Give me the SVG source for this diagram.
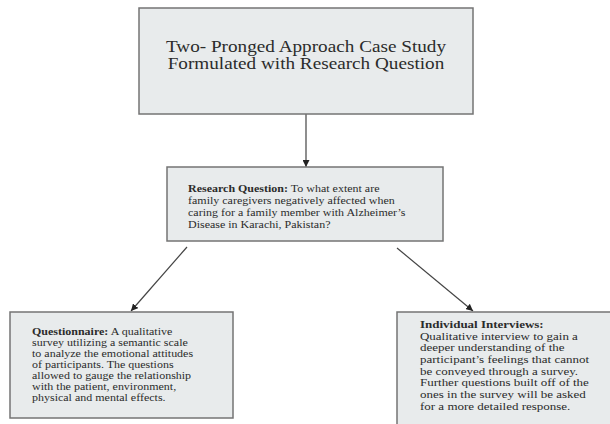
<svg xmlns="http://www.w3.org/2000/svg" width="610" height="424" viewBox="0 0 610 424">
<style>
.box{fill:#e8ebec;stroke:#747474;stroke-width:1.5}
.t{font-family:"Liberation Serif","Times New Roman",serif;fill:#2b2b2b}
.b{font-weight:bold}
.conn{stroke:#444;stroke-width:1.2;fill:none;marker-end:url(#ah)}
</style>
<defs>
<marker id="ah" viewBox="0 0 10 10" refX="10" refY="5" markerWidth="7" markerHeight="7" markerUnits="userSpaceOnUse" orient="auto">
<path d="M0,0 L10,5 L0,10 z" fill="#222"/>
</marker>
</defs>
<rect width="610" height="424" fill="#ffffff"/>
<g id="connectors">
<line class="conn" x1="306" y1="114" x2="306" y2="167"/>
<line class="conn" x1="187" y1="247" x2="131" y2="311"/>
<line class="conn" x1="397" y1="248" x2="473" y2="311"/>
</g>
<g id="node-approach">
<rect class="box" x="139" y="8" width="334" height="106"/>
<g transform="scale(1,0.88)">
<text class="t" font-size="19.2" text-anchor="middle" x="306" y="59.1">Two- Pronged Approach Case Study</text>
<text class="t" font-size="19.2" text-anchor="middle" x="306" y="78.4">Formulated with Research Question</text>
</g>
</g>
<g id="node-research-question">
<rect class="box" x="167" y="167" width="276" height="74"/>
<g transform="scale(1,0.85)" font-size="12">
<text class="t" x="188" y="225.9"><tspan class="b">Research Question:</tspan> To what extent are</text>
<text class="t" x="188" y="240">family caregivers negatively affected when</text>
<text class="t" x="188" y="254.1">caring for a family member with Alzheimer’s</text>
<text class="t" x="188" y="268.2">Disease in Karachi, Pakistan?</text>
</g>
</g>
<g id="node-questionnaire">
<rect class="box" x="10" y="312" width="223" height="106"/>
<g transform="scale(1,0.85)" font-size="12">
<text class="t" x="32" y="394.1"><tspan class="b">Questionnaire:</tspan> A qualitative</text>
<text class="t" x="32" y="407.1">survey utilizing a semantic scale</text>
<text class="t" x="32" y="420.0">to analyze the emotional attitudes</text>
<text class="t" x="32" y="433.0">of participants. The questions</text>
<text class="t" x="32" y="445.9">allowed to gauge the relationship</text>
<text class="t" x="32" y="458.8">with the patient, environment,</text>
<text class="t" x="32" y="471.8">physical and mental effects.</text>
</g>
</g>
<g id="node-interviews">
<rect class="box" x="397" y="312" width="230" height="130"/>
<g transform="scale(1,0.85)" font-size="13">
<text class="t b" x="420" y="385.9">Individual Interviews:</text>
<text class="t" x="420" y="399.6">Qualitative interview to gain a</text>
<text class="t" x="420" y="413.4">deeper understanding of the</text>
<text class="t" x="420" y="427.1">participant’s feelings that cannot</text>
<text class="t" x="420" y="440.9">be conveyed through a survey.</text>
<text class="t" x="420" y="454.6">Further questions built off of the</text>
<text class="t" x="420" y="468.4">ones in the survey will be asked</text>
<text class="t" x="420" y="482.1">for a more detailed response.</text>
</g>
</g>
</svg>
